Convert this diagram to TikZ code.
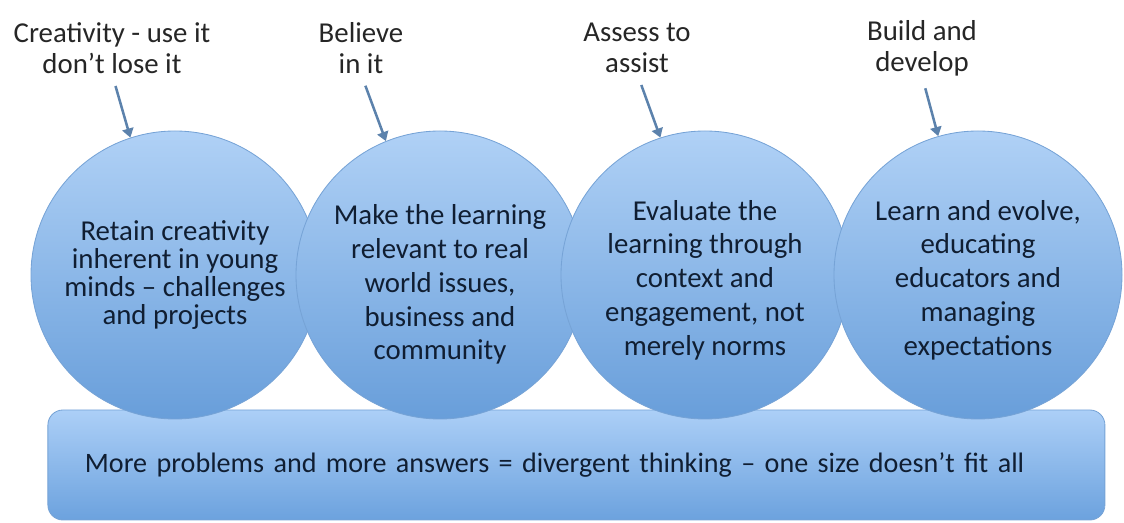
\documentclass[tikz,border=0pt]{standalone}
\usepackage{fontspec}
\setmainfont{Carlito}
\usetikzlibrary{arrows.meta}
\definecolor{circtop}{RGB}{176,209,246}
\definecolor{circbot}{RGB}{104,158,218}
\definecolor{circedge}{RGB}{118,163,214}
\definecolor{bartop}{RGB}{172,207,247}
\definecolor{barbot}{RGB}{108,162,222}
\definecolor{arrowcol}{RGB}{92,130,172}
\definecolor{labcol}{RGB}{38,38,38}
\definecolor{inkcol}{RGB}{16,30,50}

\begin{document}
\begin{tikzpicture}[x=1cm,
    bubble/.style={circle,minimum size=7.2cm,inner sep=0pt,top color=circtop,bottom color=circbot,
        draw=circedge,line width=0.6pt,align=center,text=inkcol,font=\fontsize{20.5}{24}\selectfont},
    topic/.style={align=center,inner sep=0pt,text=labcol,font=\fontsize{20.5}{22}\selectfont},
    pointer/.style={draw=arrowcol,line width=1.8pt,-{Triangle[length=6.5pt,width=8pt]},shorten <=9pt}]
        \useasboundingbox (0,0) rectangle (28.1,13.075);

        % base bar
        \node[rectangle,rounded corners=0.375cm,top color=bartop,bottom color=barbot,draw=circedge,
            line width=0.6pt,text width=24.575cm,inner xsep=0.925cm,minimum height=2.75cm,align=left,
            text=inkcol,font=\fontsize{20}{22}\selectfont] (base) at (14.41,1.45)
            {More problems and more answers = divergent thinking – one size doesn’t fit all};

        % the four circles
        \node[bubble,font=\fontsize{20.5}{20}\selectfont] (c1) at (4.375,6.2)
            {Retain creativity\\inherent in young\\minds – challenges\\and projects};
        \node[bubble] (c2) at (11,6.2)
            {\rule{0pt}{0.98cm}Make the learning\\relevant to real\\world issues,\\business and\\community};
        \node[bubble] (c3) at (17.625,6.2)
            {\rule{0pt}{0.75cm}Evaluate the\\learning through\\context and\\engagement, not\\merely norms};
        \node[bubble] (c4) at (24.45,6.2)
            {\rule{0pt}{0.75cm}Learn and evolve,\\educating\\educators and\\managing\\expectations};

        % labels on top
        \node[topic] (t1) at (2.8,11.875) {Creativity - use it\\don’t lose it};
        \node[topic] (t2) at (9.025,11.875) {Believe\\in it};
        \node[topic] (t3) at (15.925,11.875) {Assess to\\assist};
        \node[topic] (t4) at (23.05,11.875) {Build and\\develop};

        \draw[pointer] (t1.south) -- (c1.108);
        \draw[pointer] (t2.south) -- (c2.112);
        \draw[pointer] (t3.south) -- (c3.108);
        \draw[pointer] (t4.south) -- (c4.106);
\end{tikzpicture}
\end{document}
